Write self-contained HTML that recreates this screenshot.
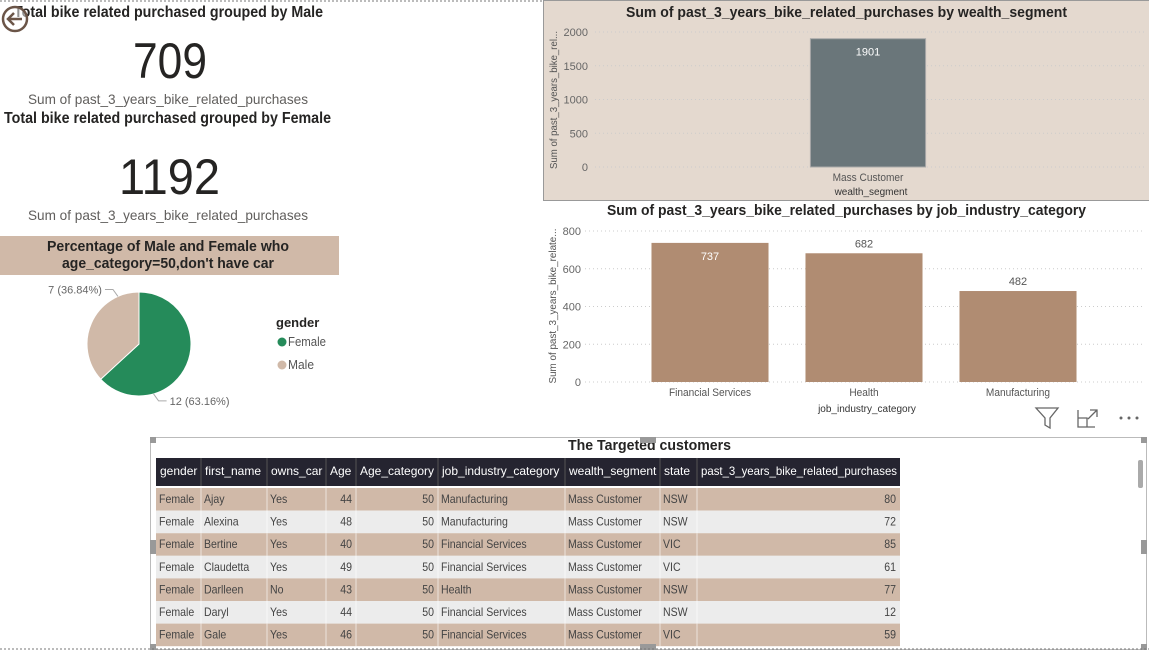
<!DOCTYPE html>
<html><head><meta charset="utf-8">
<style>
html,body{margin:0;padding:0;background:#fff;width:1149px;height:650px;overflow:hidden}
svg{display:block;font-family:"Liberation Sans",sans-serif}
.t{font-weight:bold;fill:#252423}
</style></head><body>
<svg id="s" width="1149" height="650" viewBox="0 0 1149 650">
<line x1="0" y1="1" x2="1149" y2="1" stroke="#777" stroke-dasharray="2,2"/>
<text x="14" y="17" textLength="309" lengthAdjust="spacingAndGlyphs" class="t" font-size="16">Total bike related purchased  grouped by Male</text>
<g>
<circle cx="15" cy="19" r="12" fill="#fff" fill-opacity="0.5" stroke="#6b5548" stroke-width="2.5"/>
<path d="M22 19H9M14 13l-6 6 6 6" fill="none" stroke="#6b5548" stroke-width="2.5"/>
</g>
<text x="133" y="78" textLength="74" lengthAdjust="spacingAndGlyphs" font-size="50" fill="#252423">709</text>
<text x="28" y="104" textLength="280" lengthAdjust="spacingAndGlyphs" font-size="14" fill="#605e5c">Sum of past_3_years_bike_related_purchases</text>
<text x="4" y="123" textLength="327" lengthAdjust="spacingAndGlyphs" class="t" font-size="16">Total bike related purchased  grouped by Female</text>
<text x="119" y="194" textLength="101" lengthAdjust="spacingAndGlyphs" font-size="50" fill="#252423">1192</text>
<text x="28" y="220" textLength="280" lengthAdjust="spacingAndGlyphs" font-size="14" fill="#605e5c">Sum of past_3_years_bike_related_purchases</text>
<rect x="0" y="236" width="339" height="39" fill="#d0b9a8"/>
<text x="47" y="251" textLength="242" lengthAdjust="spacingAndGlyphs" class="t" font-size="15">Percentage of Male and Female who</text>
<text x="62" y="268" textLength="212" lengthAdjust="spacingAndGlyphs" class="t" font-size="15">age_category=50,don't have car</text>
<g id="pie"></g>
<text x="276" y="327" class="t" font-size="13" fill="#444">gender</text>
<g><circle cx="282" cy="342" r="4.5" fill="#258b5a"/><text x="288" y="346" font-size="12.5" fill="#555" textLength="38" lengthAdjust="spacingAndGlyphs">Female</text></g>
<g><circle cx="282" cy="365" r="4.5" fill="#d0b9a8"/><text x="288" y="369" font-size="12.5" fill="#555" textLength="26" lengthAdjust="spacingAndGlyphs">Male</text></g>

<rect x="543.5" y="0.5" width="606" height="200" fill="#e4d9cf" stroke="#999"/>
<text x="626" y="17" textLength="441" lengthAdjust="spacingAndGlyphs" class="t" font-size="15">Sum of past_3_years_bike_related_purchases by wealth_segment</text>
<text transform="translate(557,100) rotate(-90)" text-anchor="middle" font-size="10" fill="#555" textLength="138" lengthAdjust="spacingAndGlyphs">Sum of past_3_years_bike_rel...</text>
<g id="c1"></g>
<text x="871" y="195" text-anchor="middle" font-size="10" fill="#333">wealth_segment</text>

<text x="607" y="215" textLength="479" lengthAdjust="spacingAndGlyphs" class="t" font-size="15">Sum of past_3_years_bike_related_purchases by job_industry_category</text>
<text transform="translate(556,306) rotate(-90)" text-anchor="middle" font-size="10" fill="#555" textLength="155" lengthAdjust="spacingAndGlyphs">Sum of past_3_years_bike_relate...</text>
<g id="c2"></g>
<text x="867" y="412" text-anchor="middle" font-size="10" fill="#333">job_industry_category</text>
<g><path d="M1036 408h22l-8 10v10l-5-3v-7z" fill="none" stroke="#666" stroke-width="1.3"/></g>
<g><path d="M1078 410v17h17M1078 418h9v9M1090 410h7v7M1088 419l9-9" fill="none" stroke="#666" stroke-width="1.3"/></g>
<g><circle cx="1121" cy="418" r="1.5" fill="#666"/><circle cx="1129" cy="418" r="1.5" fill="#666"/><circle cx="1137" cy="418" r="1.5" fill="#666"/></g>

<rect x="150.5" y="437.5" width="996" height="212" fill="#fff" stroke="#bbb"/>
<text x="568" y="450" textLength="163" lengthAdjust="spacingAndGlyphs" class="t" font-size="15">The Targeted customers</text>
<g id="tbl"></g>
<rect x="1138" y="460" width="5" height="28" rx="2" fill="#aaa"/>
<line x1="0" y1="649" x2="1149" y2="649" stroke="#777" stroke-dasharray="2,2"/>
</svg>
<script>
const NS="http://www.w3.org/2000/svg";
function mk(p,tag,a,txt){const e=document.createElementNS(NS,tag);for(const k in a)e.setAttribute(k,a[k]);if(txt!==undefined)e.textContent=txt;p.appendChild(e);return e;}
function squeeze(t,f){const w=t.getComputedTextLength();if(w>0){t.setAttribute('textLength',w*f);t.setAttribute('lengthAdjust','spacingAndGlyphs');}}

// pie data
const pieLabels=["Female","Male"];
const pieValues=[12,7];
const pieColors=["#258b5a","#d0b9a8"];
// wealth chart data
const wealthCats=["Mass Customer"];
const wealthVals=[1901];
const wealthTicks=[0,500,1000,1500,2000];
// job chart data
const jobCats=["Financial Services","Health","Manufacturing"];
const jobVals=[737,682,482];
const jobTicks=[0,200,400,600,800];
// table data
const tblHeaders=["gender","first_name","owns_car","Age","Age_category","job_industry_category","wealth_segment","state","past_3_years_bike_related_purchases"];
const tblRows=[
["Female","Ajay","Yes",44,50,"Manufacturing","Mass Customer","NSW",80],
["Female","Alexina","Yes",48,50,"Manufacturing","Mass Customer","NSW",72],
["Female","Bertine","Yes",40,50,"Financial Services","Mass Customer","VIC",85],
["Female","Claudetta","Yes",49,50,"Financial Services","Mass Customer","VIC",61],
["Female","Darlleen","No",43,50,"Health","Mass Customer","NSW",77],
["Female","Daryl","Yes",44,50,"Financial Services","Mass Customer","NSW",12],
["Female","Gale","Yes",46,50,"Financial Services","Mass Customer","VIC",59]];

// pie
(function(){
 const g=document.getElementById("pie"),cx=139,cy=344,r=52;
 const tot=pieValues.reduce((a,b)=>a+b,0);let a0=-Math.PI/2;
 pieValues.forEach((v,i)=>{
  const a1=a0+v/tot*2*Math.PI;
  const x0=cx+r*Math.cos(a0),y0=cy+r*Math.sin(a0),x1=cx+r*Math.cos(a1),y1=cy+r*Math.sin(a1);
  const p=mk(g,"path",{d:`M${cx} ${cy}L${x0} ${y0}A${r} ${r} 0 ${a1-a0>Math.PI?1:0} 1 ${x1} ${y1}Z`,fill:pieColors[i],stroke:"#fff","stroke-width":1});
  
  
  // leader: anchor near the slice edge, offset outward
  const am=i===0?a0+(a1-a0)*0.72:a0+(a1-a0)*0.82;
  const ex=cx+r*Math.cos(am),ey=cy+r*Math.sin(am);
  const right=i===0;
  const lx=ex+(right?5:-5), ly=ey+(Math.sin(am)>0?7:-7);
  const tx=right?lx+8:lx-8;
  mk(g,"path",{d:`M${ex} ${ey}L${lx} ${ly}L${tx} ${ly}`,fill:"none",stroke:"#aaa"});
  const pct=(v/tot*100).toFixed(2);
  const t=mk(g,"text",{x:right?tx+3:tx-3,y:ly+4,"font-size":11,fill:"#666","text-anchor":right?"start":"end"},`${v} (${pct}%)`);
  
  
  a0=a1;
 });
})();

function barChart(gid,cats,vals,ticks,o){
 const g=document.getElementById(gid),max=ticks[ticks.length-1];
 const y=v=>o.y0-(v/max)*(o.y0-o.yTop);
 ticks.forEach(t=>{
  const l=mk(g,"line",{x1:o.gx0,x2:o.gx1,y1:y(t),y2:y(t),stroke:"#ccc","stroke-dasharray":"1,3"});
  
  
  const tl=mk(g,"text",{x:o.tickX,y:y(t)+4,"text-anchor":"end","font-size":11,fill:"#666"},t);
  
  
 });
 const bw=(o.px1-o.px0)/cats.length;
 cats.forEach((c,i)=>{
  const x=o.px0+bw*i+bw*(1-o.frac)/2,w=bw*o.frac,top=y(vals[i]);
  const b=mk(g,"rect",{x:x,y:top,width:w,height:o.y0-top,fill:o.color,stroke:o.stroke||"none"});
  
  
  const inside=(o.y0-top)>(o.y0-o.yTop)*0.9;
  const vl=mk(g,"text",{x:x+w/2,y:inside?top+17:top-6,"text-anchor":"middle","font-size":11,fill:inside?"#fff":"#555"},vals[i]);
  
  
  const cl=mk(g,"text",{x:x+w/2,y:o.y0+14,"text-anchor":"middle","font-size":11,fill:"#555"},c);
  
  
  squeeze(cl,0.92);
 });
}
barChart("c1",wealthCats,wealthVals,wealthTicks,{y0:167,yTop:32,gx0:595,gx1:1145,tickX:588,px0:772,px1:964,frac:0.6,color:"#6a767a",stroke:"#aaa"});
barChart("c2",jobCats,jobVals,jobTicks,{y0:382,yTop:231,gx0:585,gx1:1145,tickX:581,px0:633,px1:1095,frac:0.76,color:"#b08c72"});

// table
(function(){
 const g=document.getElementById("tbl");
 const colX=[156,201,267,326,356,438,565,660,697,900];
 const numeric=[false,false,false,true,true,false,false,false,true];
 const hy=458,hh=28,rh=22.6;
 mk(g,"rect",{x:156,y:hy,width:744,height:hh,fill:"#252430"});
 tblHeaders.forEach((h,i)=>{
  if(i>0)mk(g,"line",{x1:colX[i],x2:colX[i],y1:hy,y2:hy+hh,stroke:"#555"});
  const t=mk(g,"text",{x:colX[i]+4,y:hy+17,"font-size":12,fill:"#fff"},h);
  
  
  const w=t.getComputedTextLength(),avail=colX[i+1]-colX[i]-7;
  if(w>avail){t.setAttribute('textLength',avail);t.setAttribute('lengthAdjust','spacingAndGlyphs');}
 });
 tblRows.forEach((r,ri)=>{
  const y=hy+hh+2+ri*rh;
  const bg=mk(g,"rect",{x:156,y:y,width:744,height:rh,fill:ri%2?"#ececec":"#d0b9a8"});
  
  
  r.forEach((v,ci)=>{
   if(ci>0)mk(g,"line",{x1:colX[ci],x2:colX[ci],y1:y,y2:y+rh,stroke:"#fff","stroke-opacity":0.6});
   const t=mk(g,"text",{x:numeric[ci]?colX[ci+1]-4:colX[ci]+3,y:y+15,"font-size":12,fill:"#444","text-anchor":numeric[ci]?"end":"start"},v);
   squeeze(t,0.88);
  });
 });
 [[150,437],[640,437],[1141,437],[150,540],[1141,540],[150,644],[640,644],[1141,644]].forEach(p=>{
  mk(g,"rect",{x:p[0],y:p[1],width:p[0]==640?16:6,height:p[0]==640?6:(p[1]==540?14:6),fill:"#999"});
 });
})();
</script>
</body></html>
